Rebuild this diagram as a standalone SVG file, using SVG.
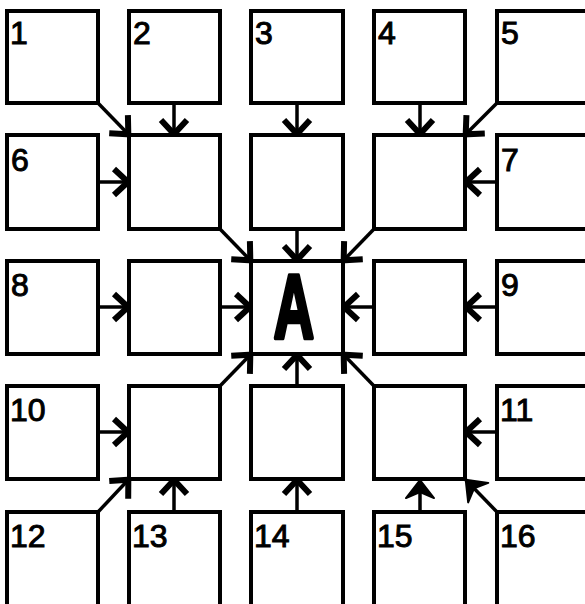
<svg xmlns="http://www.w3.org/2000/svg" width="585" height="604" viewBox="0 0 585 604">
<defs>
<style>
.box{fill:#fff;stroke:#000;stroke-width:4}
.lbl{font-family:"Liberation Sans",Arial,sans-serif;font-size:32px;fill:#000;stroke:#000;stroke-width:1}
.arr{fill:none;stroke:#000;stroke-width:3.5;marker-end:url(#chev)}
.arrf{fill:none;stroke:#000;stroke-width:3.5;marker-end:url(#tri)}
</style>
<marker id="chev" markerUnits="userSpaceOnUse" viewBox="-24 -20 30 40" refX="1" refY="0" markerWidth="30" markerHeight="40" orient="auto" overflow="visible">
<path d="M-14,-13 L0,0 L-14,13" fill="none" stroke="#000" stroke-width="6" stroke-linejoin="miter"/>
</marker>
<marker id="tri" markerUnits="userSpaceOnUse" viewBox="-24 -20 30 40" refX="1" refY="0" markerWidth="30" markerHeight="40" orient="auto" overflow="visible">
<path d="M-18,-14 L0,0 L-18,14 L-12,0 Z" fill="#000" stroke="#000" stroke-width="2" stroke-linejoin="round"/>
</marker>
</defs>
<rect width="585" height="604" fill="#fff"/>
<g id="connectors">
<line class="arr" x1="98" y1="103" x2="129" y2="135"/>
<line class="arr" x1="174" y1="103" x2="174" y2="135"/>
<line class="arr" x1="297" y1="103" x2="297" y2="135"/>
<line class="arr" x1="420" y1="103" x2="420" y2="135"/>
<line class="arr" x1="497" y1="103" x2="465" y2="135"/>
<line class="arr" x1="98" y1="182" x2="129" y2="182"/>
<line class="arr" x1="497" y1="182" x2="465" y2="182"/>
<line class="arr" x1="220" y1="229" x2="251" y2="261"/>
<line class="arr" x1="297" y1="229" x2="297" y2="261"/>
<line class="arr" x1="374" y1="229" x2="343" y2="261"/>
<line class="arr" x1="98" y1="307" x2="129" y2="307"/>
<line class="arr" x1="220" y1="307" x2="251" y2="307"/>
<line class="arr" x1="374" y1="307" x2="343" y2="307"/>
<line class="arr" x1="497" y1="307" x2="465" y2="307"/>
<line class="arr" x1="220" y1="386" x2="251" y2="354"/>
<line class="arr" x1="297" y1="386" x2="297" y2="354"/>
<line class="arr" x1="374" y1="386" x2="343" y2="354"/>
<line class="arr" x1="98" y1="432" x2="129" y2="432"/>
<line class="arr" x1="497" y1="432" x2="465" y2="432"/>
<line class="arr" x1="98" y1="512" x2="129" y2="479"/>
<line class="arr" x1="174" y1="512" x2="174" y2="479"/>
<line class="arr" x1="297" y1="512" x2="297" y2="479"/>
<line class="arrf" x1="420" y1="512" x2="420" y2="479"/>
<line class="arrf" x1="497" y1="512" x2="465" y2="479"/>
</g>
<g id="n1"><rect class="box" x="7" y="11" width="91" height="92"/><text class="lbl" x="10" y="44">1</text></g>
<g id="n2"><rect class="box" x="129" y="11" width="91" height="92"/><text class="lbl" x="133" y="44">2</text></g>
<g id="n3"><rect class="box" x="251" y="11" width="92" height="92"/><text class="lbl" x="255" y="44">3</text></g>
<g id="n4"><rect class="box" x="374" y="11" width="91" height="92"/><text class="lbl" x="378" y="44">4</text></g>
<g id="n5"><rect class="box" x="497" y="11" width="91" height="92"/><text class="lbl" x="501" y="44">5</text></g>
<g id="b22"><rect class="box" x="129" y="135" width="91" height="94"/></g>
<g id="b23"><rect class="box" x="251" y="135" width="92" height="94"/></g>
<g id="b24"><rect class="box" x="374" y="135" width="91" height="94"/></g>
<g id="n6"><rect class="box" x="7" y="135" width="91" height="94"/><text class="lbl" x="11" y="171">6</text></g>
<g id="n7"><rect class="box" x="497" y="135" width="91" height="94"/><text class="lbl" x="501" y="171">7</text></g>
<g id="n8"><rect class="box" x="7" y="261" width="91" height="93"/><text class="lbl" x="11" y="296">8</text></g>
<g id="b32"><rect class="box" x="129" y="261" width="91" height="93"/></g>
<g id="nA"><rect class="box" x="251" y="261" width="92" height="93"/><text x="0" y="0" transform="translate(294,338) scale(0.62,1)" text-anchor="middle" font-family="Liberation Sans,Arial,sans-serif" font-weight="bold" font-size="90" fill="#000" stroke="#000" stroke-width="4.5" stroke-linejoin="round">A</text></g>
<g id="b34"><rect class="box" x="374" y="261" width="91" height="93"/></g>
<g id="n9"><rect class="box" x="497" y="261" width="91" height="93"/><text class="lbl" x="501" y="296">9</text></g>
<g id="n10"><rect class="box" x="7" y="386" width="91" height="93"/><text class="lbl" x="10" y="421">10</text></g>
<g id="b42"><rect class="box" x="129" y="386" width="91" height="93"/></g>
<g id="b43"><rect class="box" x="251" y="386" width="92" height="93"/></g>
<g id="b44"><rect class="box" x="374" y="386" width="91" height="93"/></g>
<g id="n11"><rect class="box" x="497" y="386" width="91" height="93"/><text class="lbl" x="500" y="421">11</text></g>
<g id="n12"><rect class="box" x="7" y="512" width="91" height="95"/><text class="lbl" x="10" y="547">12</text></g>
<g id="n13"><rect class="box" x="129" y="512" width="91" height="95"/><text class="lbl" x="132" y="547">13</text></g>
<g id="n14"><rect class="box" x="251" y="512" width="92" height="95"/><text class="lbl" x="254" y="547">14</text></g>
<g id="n15"><rect class="box" x="374" y="512" width="91" height="95"/><text class="lbl" x="377" y="547">15</text></g>
<g id="n16"><rect class="box" x="497" y="512" width="91" height="95"/><text class="lbl" x="500" y="547">16</text></g>
</svg>
